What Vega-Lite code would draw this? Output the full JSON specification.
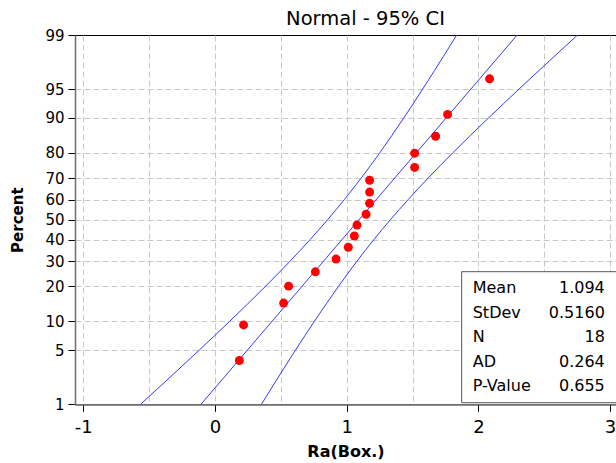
{
  "$schema": "https://vega.github.io/schema/vega-lite/v6.json",
  "width": 541,
  "height": 369.3,
  "autosize": {"type": "none"},
  "padding": {"left": 75, "top": 35, "right": 0, "bottom": 58.7},
  "background": "white",
  "title": {"text": "Normal - 95% CI", "font": "DejaVu Sans", "fontSize": 19.5, "fontWeight": "normal", "color": "#000000", "dx": 20, "offset": -1.5},
  "config": {
    "view": {"stroke": "#000000", "strokeWidth": 1},
    "axis": {"labelFont": "DejaVu Sans", "titleFont": "DejaVu Sans", "labelColor": "#000000", "titleColor": "#000000", "domainColor": "#6e6e6e", "domainWidth": 1.5, "tickColor": "#000000", "gridColor": "#c8c8c8", "gridDash": [6, 3], "gridWidth": 1, "labelOverlap": false}
  },
  "datasets": {
    "points": [
      {"x": 0.185, "pct": 3.80},
      {"x": 0.217, "pct": 9.24},
      {"x": 0.521, "pct": 14.67},
      {"x": 0.559, "pct": 20.11},
      {"x": 0.762, "pct": 25.54},
      {"x": 0.919, "pct": 30.98},
      {"x": 1.012, "pct": 36.41},
      {"x": 1.058, "pct": 41.85},
      {"x": 1.078, "pct": 47.28},
      {"x": 1.147, "pct": 52.72},
      {"x": 1.174, "pct": 58.15},
      {"x": 1.174, "pct": 63.59},
      {"x": 1.174, "pct": 69.02},
      {"x": 1.516, "pct": 74.46},
      {"x": 1.516, "pct": 79.89},
      {"x": 1.675, "pct": 85.33},
      {"x": 1.766, "pct": 90.76},
      {"x": 2.085, "pct": 96.20}
    ],
    "lines": [
      {"curve": "fit", "pct": 1, "x": -0.1064},
      {"curve": "fit", "pct": 99, "x": 2.2944},
      {"curve": "lower", "pct": 1, "x": -0.5653},
      {"curve": "lower", "pct": 2, "x": -0.3860},
      {"curve": "lower", "pct": 3, "x": -0.2732},
      {"curve": "lower", "pct": 5, "x": -0.1204},
      {"curve": "lower", "pct": 10, "x": 0.1110},
      {"curve": "lower", "pct": 20, "x": 0.3823},
      {"curve": "lower", "pct": 30, "x": 0.5692},
      {"curve": "lower", "pct": 40, "x": 0.7211},
      {"curve": "lower", "pct": 50, "x": 0.8556},
      {"curve": "lower", "pct": 60, "x": 0.9825},
      {"curve": "lower", "pct": 70, "x": 1.1104},
      {"curve": "lower", "pct": 80, "x": 1.2509},
      {"curve": "lower", "pct": 90, "x": 1.4336},
      {"curve": "lower", "pct": 95, "x": 1.5771},
      {"curve": "lower", "pct": 97, "x": 1.6678},
      {"curve": "lower", "pct": 98, "x": 1.7334},
      {"curve": "lower", "pct": 99, "x": 1.8355},
      {"curve": "upper", "pct": 1, "x": 0.3525},
      {"curve": "upper", "pct": 2, "x": 0.4546},
      {"curve": "upper", "pct": 3, "x": 0.5202},
      {"curve": "upper", "pct": 5, "x": 0.6109},
      {"curve": "upper", "pct": 10, "x": 0.7544},
      {"curve": "upper", "pct": 20, "x": 0.9371},
      {"curve": "upper", "pct": 30, "x": 1.0776},
      {"curve": "upper", "pct": 40, "x": 1.2055},
      {"curve": "upper", "pct": 50, "x": 1.3324},
      {"curve": "upper", "pct": 60, "x": 1.4669},
      {"curve": "upper", "pct": 70, "x": 1.6188},
      {"curve": "upper", "pct": 80, "x": 1.8057},
      {"curve": "upper", "pct": 90, "x": 2.0770},
      {"curve": "upper", "pct": 95, "x": 2.3084},
      {"curve": "upper", "pct": 97, "x": 2.4612},
      {"curve": "upper", "pct": 98, "x": 2.5740},
      {"curve": "upper", "pct": 99, "x": 2.7533}
    ],
    "stats": [
      {"label": "Mean", "value": "1.094", "row": 1},
      {"label": "StDev", "value": "0.5160", "row": 2},
      {"label": "N", "value": "18", "row": 3},
      {"label": "AD", "value": "0.264", "row": 4},
      {"label": "P-Value", "value": "0.655", "row": 5}
    ]
  },
  "layer": [
    {
      "layer": [
        {
          "data": {"name": "lines"},
          "transform": [{"calculate": "quantileNormal(datum.pct / 100)", "as": "z"}],
          "mark": {"type": "line", "color": "#3838ff", "strokeWidth": 1, "interpolate": "monotone", "clip": true},
          "encoding": {
            "x": {
              "field": "x", "type": "quantitative",
              "scale": {"domain": [-1.063, 3.045], "nice": false, "zero": false},
              "axis": {
                "values": [-1, -0.5, 0, 0.5, 1, 1.5, 2, 2.5, 3],
                "tickCount": 30,
                "labelExpr": "datum.value % 1 === 0 ? '' + datum.value : ''",
                "grid": true,
                "tickOpacity": {"condition": {"test": "datum.value % 1 === 0", "value": 1}, "value": 0},
                "tickSize": 7,
                "labelFontSize": 18,
                "labelPadding": 7,
                "title": "Ra(Box.)",
                "titleFontSize": 16,
                "titleFontWeight": "bold",
                "titlePadding": 7
              }
            },
            "y": {
              "field": "z", "type": "quantitative",
              "scale": {"domain": [-2.3263, 2.3263], "nice": false, "zero": false},
              "axis": {
                "values": [-2.3263, -1.6449, -1.2816, -0.8416, -0.5244, -0.2533, 0, 0.2533, 0.5244, 0.8416, 1.2816, 1.6449, 2.3263],
                "tickCount": 30,
                "labelExpr": "'' + round(cumulativeNormal(datum.value) * 100)",
                "grid": true,
                "gridOpacity": {"condition": {"test": "abs(datum.value) > 2.3", "value": 0}, "value": 1},
                "tickSize": 7,
                "labelFontSize": 15,
                "labelPadding": 4,
                "title": "Percent",
                "titleFontSize": 15,
                "titleFontWeight": "bold",
                "titlePadding": 19
              }
            },
            "detail": {"field": "curve", "type": "nominal"}
          }
        },
        {
          "data": {"name": "points"},
          "transform": [{"calculate": "quantileNormal(datum.pct / 100)", "as": "z"}],
          "mark": {"type": "point", "filled": true, "shape": "circle", "color": "#ff0000", "size": 80, "opacity": 1},
          "encoding": {
            "x": {"field": "x", "type": "quantitative", "scale": {"domain": [-1.063, 3.045], "nice": false, "zero": false}},
            "y": {"field": "z", "type": "quantitative", "scale": {"domain": [-2.3263, 2.3263], "nice": false, "zero": false}}
          }
        }
      ]
    },
    {
      "layer": [
        {
          "data": {"values": [{}]},
          "mark": {"type": "rect", "fill": "#ffffff", "stroke": "#555555", "strokeWidth": 1},
          "encoding": {
            "x": {"datum": 1.873, "type": "quantitative", "scale": {"domain": [-1.063, 3.045], "nice": false, "zero": false}},
            "x2": {"datum": 3.3},
            "y": {"datum": 0.322, "type": "quantitative", "scale": {"domain": [-9.34, 5.735], "nice": false, "zero": false, "reverse": true}, "axis": null},
            "y2": {"datum": 5.67}
          }
        },
        {
          "data": {"name": "stats"},
          "mark": {"type": "text", "align": "left", "baseline": "middle", "font": "DejaVu Sans", "fontSize": 16, "color": "#000000"},
          "encoding": {
            "x": {"datum": 1.957, "type": "quantitative", "scale": {"domain": [-1.063, 3.045], "nice": false, "zero": false}},
            "y": {"field": "row", "type": "quantitative", "scale": {"domain": [-9.34, 5.735], "nice": false, "zero": false, "reverse": true}, "axis": null},
            "text": {"field": "label"}
          }
        },
        {
          "data": {"name": "stats"},
          "mark": {"type": "text", "align": "right", "baseline": "middle", "font": "DejaVu Sans", "fontSize": 16, "color": "#000000"},
          "encoding": {
            "x": {"datum": 2.96, "type": "quantitative", "scale": {"domain": [-1.063, 3.045], "nice": false, "zero": false}},
            "y": {"field": "row", "type": "quantitative", "scale": {"domain": [-9.34, 5.735], "nice": false, "zero": false, "reverse": true}, "axis": null},
            "text": {"field": "value"}
          }
        }
      ]
    }
  ],
  "resolve": {"scale": {"y": "independent"}}
}
